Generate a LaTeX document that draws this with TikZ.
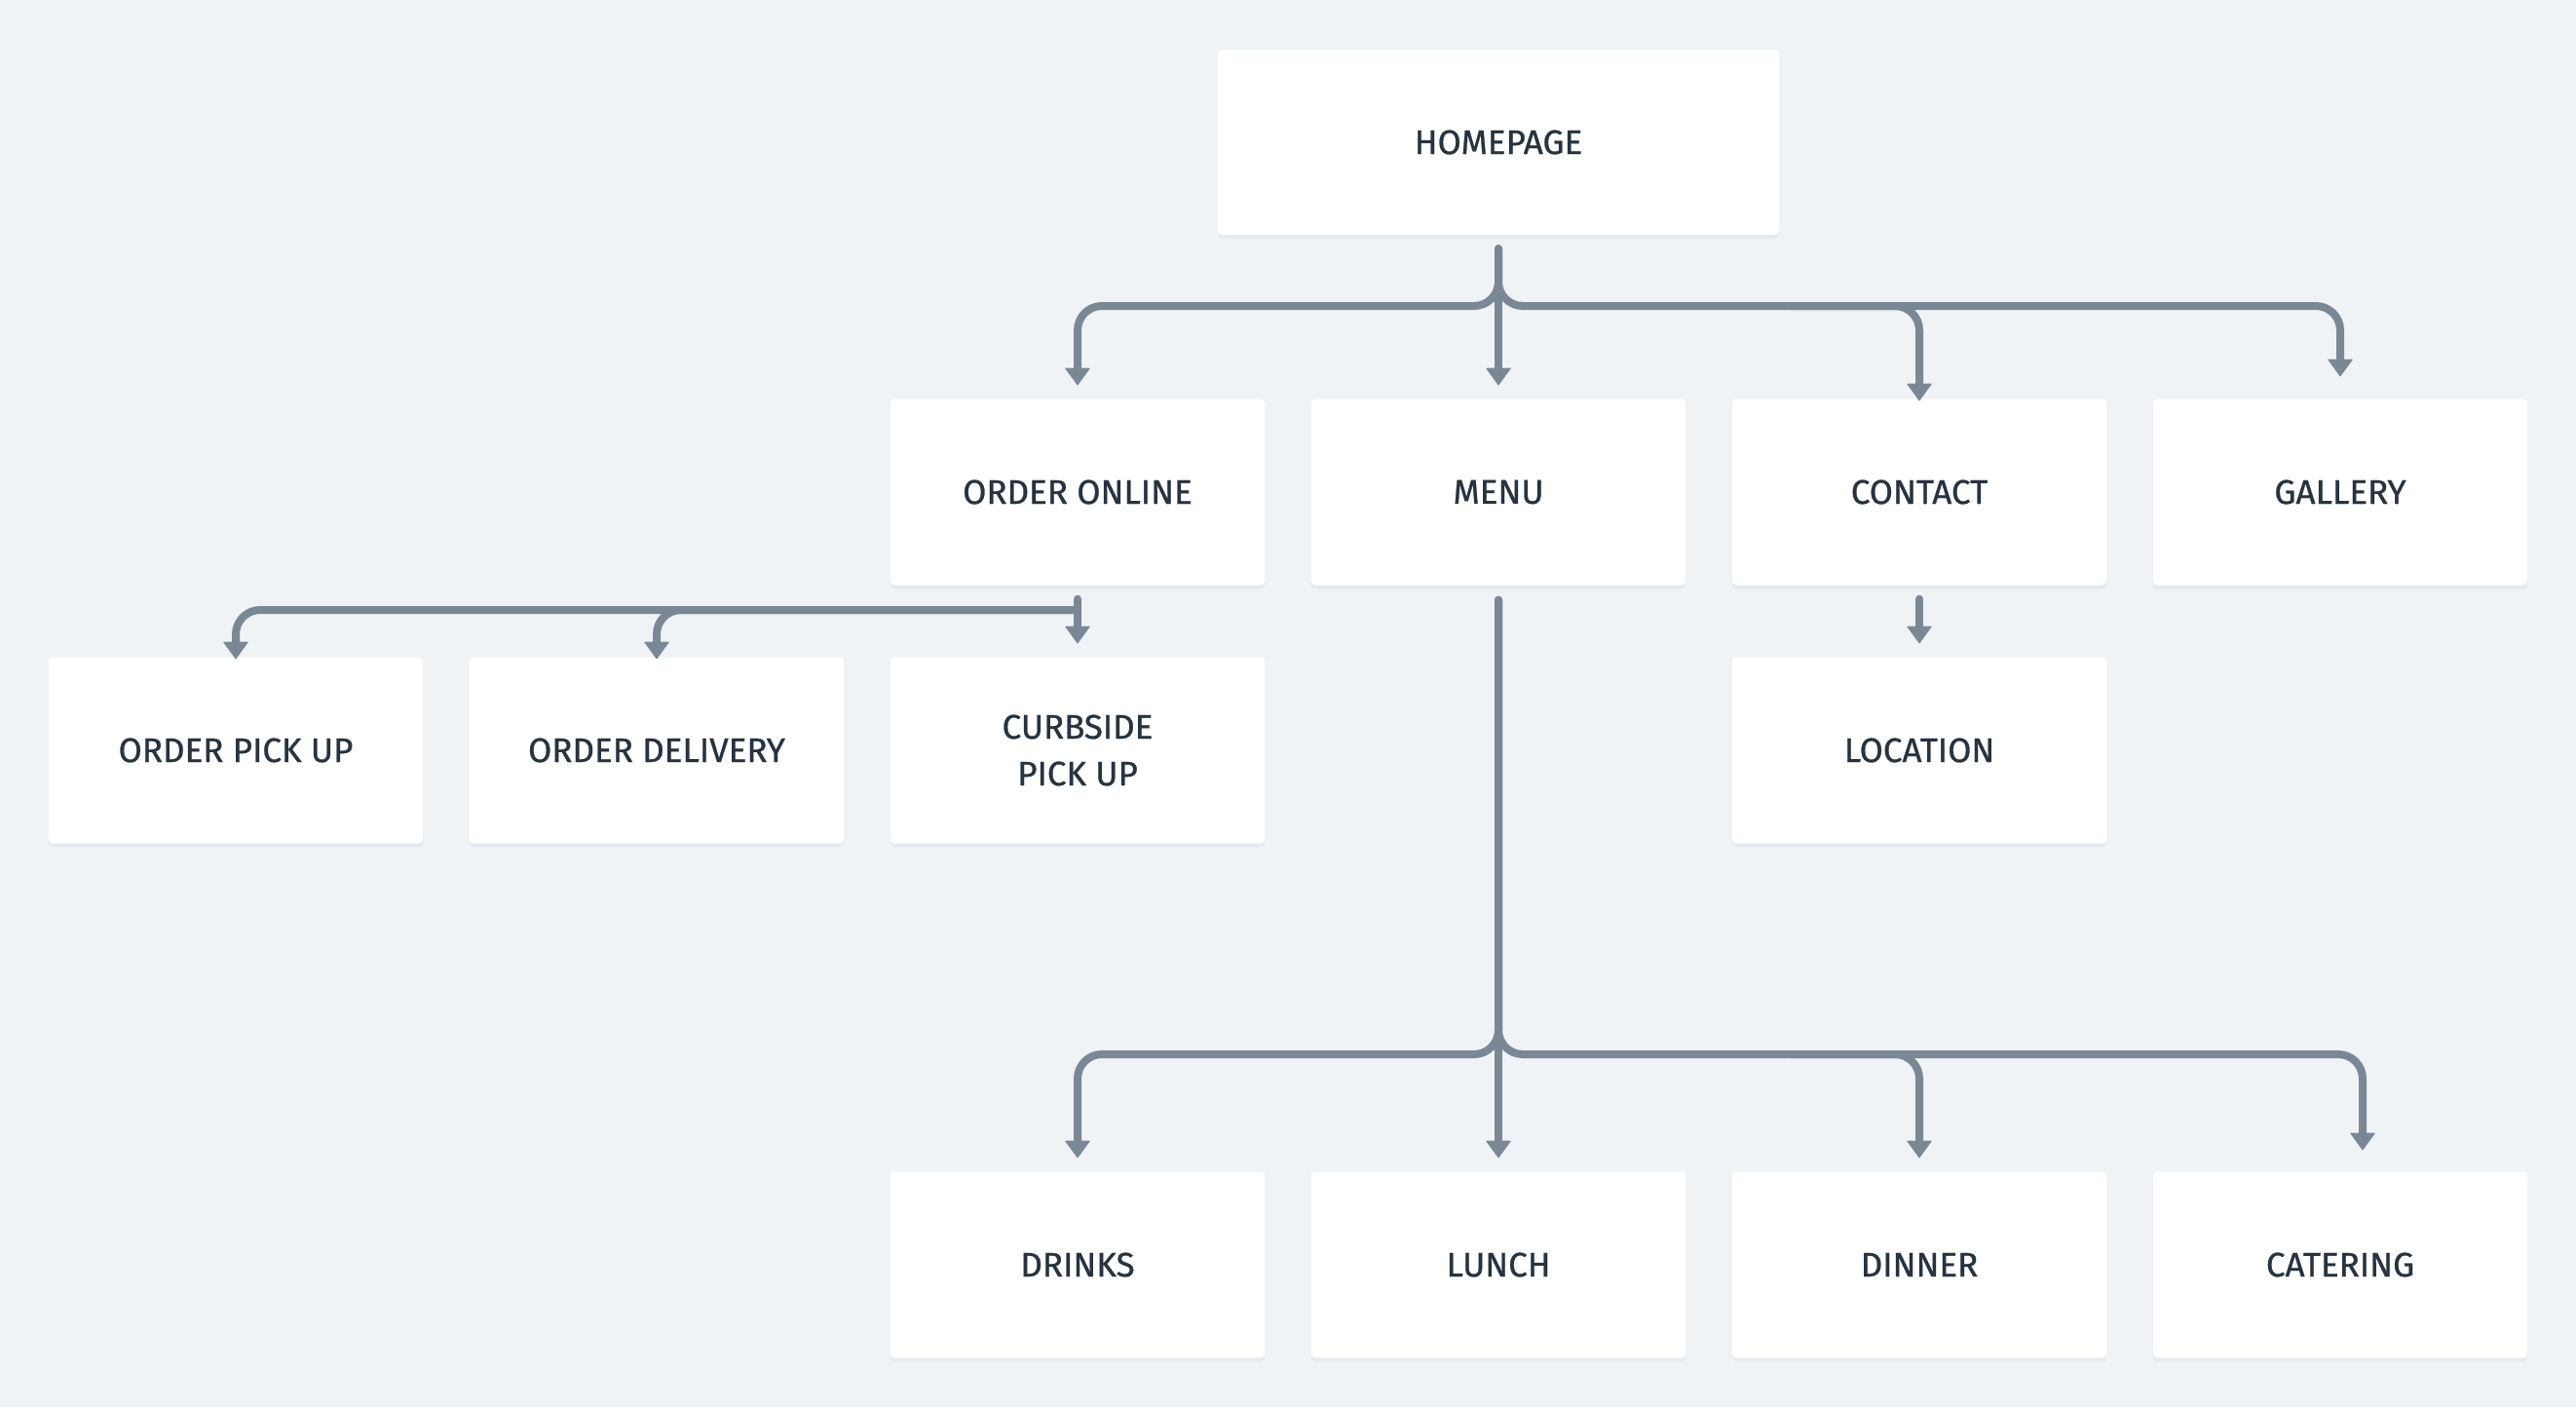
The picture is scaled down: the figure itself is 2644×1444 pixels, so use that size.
\documentclass[tikz,border=0pt]{standalone}
\usepackage{fontspec}
\setmainfont{Fira Sans}
\newfontfamily\boxfont{Fira Sans}[FakeBold=0.8]
\usetikzlibrary{arrows.meta,calc}
\definecolor{bg}{HTML}{EFF3F6}
\definecolor{shade}{HTML}{E5EAEE}
\definecolor{linec}{HTML}{7A8896}
\definecolor{txt}{HTML}{263340}
\tikzset{
  box/.style={rectangle, fill=white, rounded corners=4pt, inner sep=0pt,
    minimum width=384pt, minimum height=191pt, align=center, text=txt,
    font=\boxfont\fontsize{35}{48}\selectfont,
    preaction={fill=shade, transform canvas={yshift=-4pt}}},
  conn/.style={draw=linec, line width=8pt, line cap=round, rounded corners=25pt},
  tipped/.style={conn, -{Triangle[width=26pt,length=18pt,line width=1pt,round]}},
}
\begin{document}
\begin{tikzpicture}[x=1pt,y=-1pt]
\fill[bg] (0,0) rectangle (2644,1444);
\useasboundingbox (0,0) rectangle (2644,1444);

\node[box, minimum width=576pt, minimum height=190pt] (home) at (1538,146) {HOMEPAGE};

\node[box] (oo) at (1106,505) {ORDER ONLINE};
\node[box] (menu) at (1538,505) {MENU};
\node[box] (contact) at (1970,505) {CONTACT};
\node[box] (gallery) at (2402,505) {GALLERY};

\node[box] (pickup) at (242,770) {ORDER PICK UP};
\node[box] (delivery) at (674,770) {ORDER DELIVERY};
\node[box] (curbside) at (1106,770) {CURBSIDE\\PICK UP};
\node[box] (location) at (1970,770) {LOCATION};

\node[box] (drinks) at (1106,1298) {DRINKS};
\node[box] (lunch) at (1538,1298) {LUNCH};
\node[box] (dinner) at (1970,1298) {DINNER};
\node[box] (catering) at (2402,1298) {CATERING};

\coordinate (bus1) at (0,314);
\coordinate (bus2) at (0,626);
\coordinate (bus3) at (0,1082);

% homepage level
\draw[tipped] ([yshift=-14pt]home.south) -- (home.south |- bus1) -- (oo.north |- bus1) -- ([yshift=14pt]oo.north);
\draw[tipped] ([yshift=-14pt]home.south) -- ([yshift=14pt]menu.north);
\draw[tipped] ([yshift=-14pt]home.south) -- (home.south |- bus1) -- (gallery.north |- bus1) -- ([yshift=23pt]gallery.north);
\draw[tipped] ($(home.south |- bus1)+(300,0)$) -- (contact.north |- bus1) -- ([yshift=-2pt]contact.north);

% order online level
\draw[tipped] ([yshift=-14pt]oo.south) -- ([yshift=14pt]curbside.north);
\draw[tipped] (oo.south |- bus2) -- (pickup.north |- bus2) -- ([yshift=-2pt]pickup.north);
\draw[tipped] (oo.south |- bus2) -- (delivery.north |- bus2) -- ([yshift=-2pt]delivery.north);

% contact level
\draw[tipped] ([yshift=-14pt]contact.south) -- ([yshift=14pt]location.north);

% menu level
\draw[tipped] ([yshift=-15pt]menu.south) -- (menu.south |- bus3) -- (drinks.north |- bus3) -- ([yshift=14pt]drinks.north);
\draw[tipped] ([yshift=-15pt]menu.south) -- ([yshift=14pt]lunch.north);
\draw[tipped] ([yshift=-15pt]menu.south) -- (menu.south |- bus3) -- ([xshift=23pt]catering.north |- bus3) -- ([xshift=23pt,yshift=22pt]catering.north);
\draw[tipped] ($(menu.south |- bus3)+(300,0)$) -- (dinner.north |- bus3) -- ([yshift=14pt]dinner.north);
\end{tikzpicture}
\end{document}
